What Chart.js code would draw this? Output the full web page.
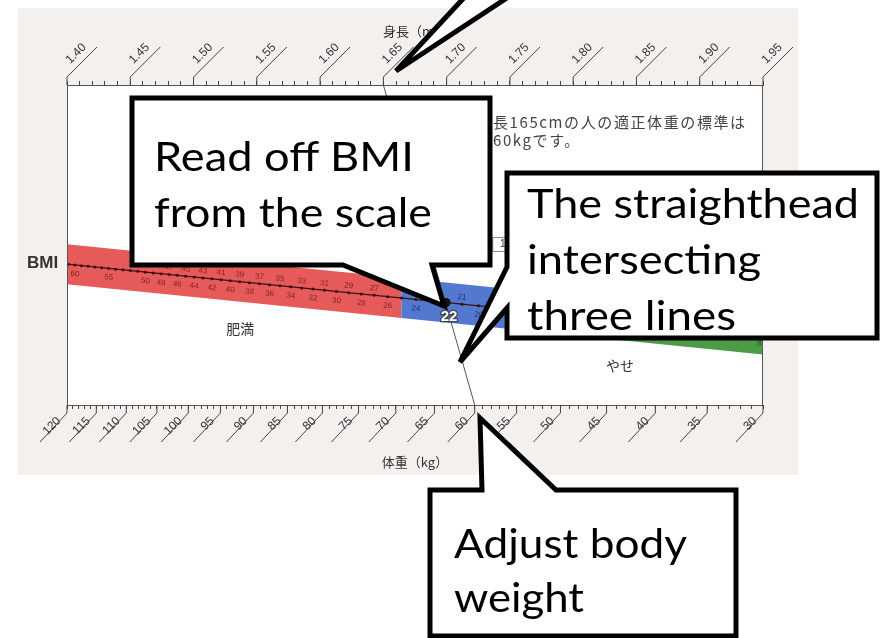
<!DOCTYPE html>
<html><head><meta charset="utf-8">
<script src="https://cdn.jsdelivr.net/npm/chart.js@4/dist/chart.umd.min.js"></script>
<style>
html,body{margin:0;padding:0;background:#fff;}
#wrap{position:relative;width:881px;height:638px;overflow:hidden;}
#scan{position:absolute;left:18px;top:8px;width:780px;height:467px;background:#f4f0ee;}
#c{position:absolute;left:0;top:0;}
#ov{position:absolute;left:0;top:0;}
</style></head>
<body><div id="wrap"><div id="scan"></div><canvas id="c" width="881" height="638"></canvas>
<svg id="ov" width="881" height="638" xmlns="http://www.w3.org/2000/svg">
 <g fill="#fff" stroke="#000" stroke-width="5" stroke-linejoin="miter">
  <path d="M473,-12 L396,71 L522,-12 Z"/>
  <path d="M132,98 H490 V265 H432 L444,306 L343,265 H132 Z"/>
  <path d="M507,173 H877 V338 H507 V308 L460,362 L507,267 Z"/>
  <path d="M430,490 H482 L480,418 L556,490 H736 V636 H430 Z"/>
 </g>
 <g font-family="Lato, 'Open Sans', sans-serif" font-size="41" fill="#000">
  <text x="154" y="171" textLength="260" lengthAdjust="spacingAndGlyphs">Read off BMI</text>
  <text x="154" y="227" textLength="278" lengthAdjust="spacingAndGlyphs">from the scale</text>
  <text x="527" y="218" textLength="332" lengthAdjust="spacingAndGlyphs">The straighthead</text>
  <text x="527" y="274" textLength="234" lengthAdjust="spacingAndGlyphs">intersecting</text>
  <text x="527" y="330" textLength="209" lengthAdjust="spacingAndGlyphs">three lines</text>
  <text x="454" y="558" textLength="233" lengthAdjust="spacingAndGlyphs">Adjust body</text>
  <text x="454" y="612" textLength="130" lengthAdjust="spacingAndGlyphs">weight</text>
 </g>
</svg>
</div>
<script>
// ---- data ----
const heightMajor = [1.40,1.45,1.50,1.55,1.60,1.65,1.70,1.75,1.80,1.85,1.90,1.95];
const weightMajor = [120,115,110,105,100,95,90,85,80,75,70,65,60,55,50,45,40,35,30];
const bmiUpperLabels = [47,45,43,41,39,37,35,33,31,29,27,23,21,19,17,15,13,11,9];
const bmiLowerLabels = [60,55,50,48,46,44,42,40,38,36,34,32,30,28,26,24,20,18,16,14,12,10,8];
const bmiLimits = [25, 18.5];            // obese >= 25, thin < 18.5
const zoneNames = ['肥満', 'やせ'];
const zoneColors = ['#e65b5a', '#5279cf', '#4b9b47'];
const exampleHeight = 1.65, exampleWeight = 60, exampleBMI = 22;
const noteLines = ['身長165cmの人の適正体重の標準は', '約60kgです。'];

const hMin = 1.40, hMax = 1.95, wMin = 30, wMax = 120;

// tick lists (scale graduations)
const hTicks = []; for (let i = 0; i <= Math.round((hMax-hMin)*100); i++) hTicks.push(Math.round((hMin + i*0.01)*100)/100);
const wTicks = []; for (let w = wMax; w >= wMin; w--) wTicks.push(w);
const bmiDots = []; for (let b = 8; b <= 61; b++) bmiDots.push(b);

function intersect(p1,p2,p3,p4){
  const d=(p1.x-p2.x)*(p3.y-p4.y)-(p1.y-p2.y)*(p3.x-p4.x);
  const a=p1.x*p2.y-p1.y*p2.x, b=p3.x*p4.y-p3.y*p4.x;
  return {x:(a*(p3.x-p4.x)-(p1.x-p2.x)*b)/d, y:(a*(p3.y-p4.y)-(p1.y-p2.y)*b)/d};
}
function geo(chart){
  const xh=chart.scales.xh, xw=chart.scales.xw, ys=chart.scales.y;
  const yT=ys.getPixelForValue(0), yB=ys.getPixelForValue(1);
  const T=h=>({x:xh.getPixelForValue(h), y:yT});
  const B=w=>({x:xw.getPixelForValue(Math.sqrt(w)), y:yB});
  const bmiPt=b=>intersect(T(1.45),B(b*1.45*1.45),T(1.90),B(b*1.90*1.90));
  const pA=bmiPt(60), pB=bmiPt(10);
  const slope=(pB.y-pA.y)/(pB.x-pA.x);
  const yAt=x=>pA.y+(x-pA.x)*slope;
  return {xh,xw,yT,yB,T,B,bmiPt,yAt,slope};
}

const nomogram = {
  id:'nomogram',
  beforeDraw(chart){
    const {ctx, chartArea:a} = chart;
    ctx.save(); ctx.fillStyle='#fff'; ctx.fillRect(a.left,a.top,a.right-a.left,a.bottom-a.top); ctx.restore();
  },
  afterDraw(chart){
    const {ctx, chartArea:a} = chart;
    const g = geo(chart);
    const hw = 20;
    ctx.save();
    // bands
    const xs=[a.left, g.bmiPt(bmiLimits[0]).x, g.bmiPt(bmiLimits[1]).x, a.right];
    for(let i=0;i<3;i++){
      const x0=xs[i], x1=xs[i+1];
      ctx.fillStyle=zoneColors[i];
      ctx.beginPath();
      ctx.moveTo(x0,g.yAt(x0)-hw); ctx.lineTo(x1,g.yAt(x1)-hw);
      ctx.lineTo(x1,g.yAt(x1)+hw); ctx.lineTo(x0,g.yAt(x0)+hw); ctx.closePath(); ctx.fill();
    }
    // BMI line
    ctx.strokeStyle='#3a1212'; ctx.lineWidth=1.3;
    ctx.beginPath(); ctx.moveTo(a.left,g.yAt(a.left)); ctx.lineTo(a.right,g.yAt(a.right)); ctx.stroke();
    ctx.fillStyle='#3a0e0e';
    bmiDots.forEach(b=>{const p=g.bmiPt(b); if(p.x>=a.left&&p.x<=a.right){ctx.beginPath();ctx.arc(p.x,p.y,1.5,0,Math.PI*2);ctx.fill();}});
    // BMI numbers
    const ang=Math.atan(g.slope);
    const col=b=> b>=bmiLimits[0]?'rgba(110,25,25,0.85)':(b>=bmiLimits[1]?'rgba(25,35,95,0.85)':'rgba(25,65,25,0.85)');
    ctx.font='8px "Liberation Sans", Arial, sans-serif'; ctx.textAlign='center'; ctx.textBaseline='middle';
    const lab=(b,off)=>{const p=g.bmiPt(b); if(p.x<a.left+4||p.x>a.right-3) return;
      ctx.save(); ctx.translate(p.x,p.y+off); ctx.rotate(ang); ctx.fillStyle=col(b); ctx.fillText(String(b),0,0); ctx.restore();};
    bmiUpperLabels.forEach(b=>lab(b,-7));
    bmiLowerLabels.forEach(b=>lab(b,9));
    // 18.5 label box
    const p185=g.bmiPt(bmiLimits[1]);
    ctx.fillStyle='#fff'; ctx.strokeStyle='#888'; ctx.lineWidth=1;
    ctx.fillRect(p185.x-12,p185.y-71,34,14); ctx.strokeRect(p185.x-12,p185.y-71,34,14);
    ctx.fillStyle='#333'; ctx.font='10px "Liberation Sans", Arial, sans-serif';
    ctx.fillText(String(bmiLimits[1]),p185.x+5,p185.y-64);
    // example line
    const t=g.T(exampleHeight), bt=g.B(exampleWeight);
    ctx.strokeStyle='#555'; ctx.lineWidth=1;
    ctx.beginPath(); ctx.moveTo(t.x,t.y); ctx.lineTo(bt.x,bt.y); ctx.stroke();
    // 22 marker
    const p22=g.bmiPt(exampleBMI);
    ctx.fillStyle='#111'; ctx.beginPath(); ctx.arc(p22.x,p22.y,4.5,0,Math.PI*2); ctx.fill();
    ctx.font='bold 15px "Liberation Sans", Arial, sans-serif';
    ctx.lineWidth=2.5; ctx.strokeStyle='#445'; ctx.strokeText(String(exampleBMI),p22.x+3,p22.y+14);
    ctx.fillStyle='#fff'; ctx.fillText(String(exampleBMI),p22.x+3,p22.y+14);
    // major tick extensions
    ctx.strokeStyle='#444'; ctx.lineWidth=1;
    heightMajor.forEach(h=>{const x=g.xh.getPixelForValue(h); ctx.beginPath(); ctx.moveTo(x,a.top); ctx.lineTo(x,a.top-8); ctx.lineTo(x+30,a.top-38); ctx.stroke();});
    weightMajor.forEach(w=>{const x=g.xw.getPixelForValue(Math.sqrt(w)); ctx.beginPath(); ctx.moveTo(x,a.bottom); ctx.lineTo(x,a.bottom+8); ctx.lineTo(x-27,a.bottom+37); ctx.stroke();});
    // box sides
    ctx.strokeStyle='#555';
    ctx.beginPath(); ctx.moveTo(a.left+0.5,a.top); ctx.lineTo(a.left+0.5,a.bottom); ctx.moveTo(a.right-0.5,a.top); ctx.lineTo(a.right-0.5,a.bottom); ctx.stroke();
    // texts
    ctx.fillStyle='#333'; ctx.textAlign='left'; ctx.textBaseline='middle';
    ctx.font='600 17px "Liberation Sans", Arial, sans-serif';
    ctx.fillText('BMI', a.left-40, g.yAt(a.left)-1);
    ctx.font='14px "Noto Sans CJK JP", sans-serif'; ctx.textAlign='center';
    const pObese=g.bmiPt(40), pThin=g.bmiPt(13);
    ctx.fillText(zoneNames[0], pObese.x+10, pObese.y+48);
    ctx.fillText(zoneNames[1], pThin.x+2, pThin.y+46);
    ctx.textAlign='left'; ctx.font='15px "Noto Sans CJK JP", sans-serif'; ctx.fillStyle='#444';
    if ('letterSpacing' in ctx) ctx.letterSpacing='1.6px';
    ctx.fillText(noteLines[0], t.x+93, a.top+37);
    ctx.fillText(noteLines[1], t.x+93, a.top+55);
    ctx.restore();
  }
};

const tickFont={family:'"Liberation Sans", Arial, sans-serif', size:12};
new Chart(document.getElementById('c'), {
  type:'scatter',
  data:{datasets:[]},
  options:{
    responsive:false, animation:false, devicePixelRatio:1,
    layout:{padding:{left:67,right:118,top:15,bottom:163}},
    plugins:{legend:{display:false}, tooltip:{enabled:false}},
    scales:{
      xh:{type:'linear', position:'top', axis:'x', min:hMin, max:hMax,
        afterBuildTicks:s=>{s.ticks=hTicks.map(v=>({value:v}));},
        afterFit:s=>{s.height=70; s.paddingLeft=0; s.paddingRight=0;},
        ticks:{autoSkip:false, minRotation:45, maxRotation:45, padding:14, labelOffset:11, color:'#333', font:tickFont,
          callback:v=>heightMajor.some(m=>Math.abs(m-v)<1e-6)?v.toFixed(2):''},
        grid:{drawOnChartArea:false, drawTicks:true, tickLength:4, color:'#444'},
        border:{display:true, color:'#555'},
        title:{display:true, text:'身長（m）', color:'#333', font:{family:'"Noto Sans CJK JP", sans-serif', size:13}, padding:{top:8,bottom:0}}
      },
      xw:{type:'linear', position:'bottom', axis:'x', reverse:true, min:Math.sqrt(wMin), max:Math.sqrt(wMax),
        afterBuildTicks:s=>{s.ticks=wTicks.map(w=>({value:Math.sqrt(w)}));},
        afterFit:s=>{s.height=70; s.paddingLeft=0; s.paddingRight=0;},
        ticks:{autoSkip:false, minRotation:45, maxRotation:45, padding:5, labelOffset:-8, color:'#333', font:tickFont,
          callback:v=>{const w=Math.round(v*v); return weightMajor.includes(w)?String(w):'';}},
        grid:{drawOnChartArea:false, drawTicks:true, tickLength:4, color:'#444'},
        border:{display:true, color:'#555'},
        title:{display:true, text:'体重（kg）', color:'#333', font:{family:'"Noto Sans CJK JP", sans-serif', size:13}, padding:{top:0,bottom:5}}
      },
      y:{type:'linear', min:0, max:1, reverse:true, display:false}
    }
  },
  plugins:[nomogram]
});
</script></body></html>
